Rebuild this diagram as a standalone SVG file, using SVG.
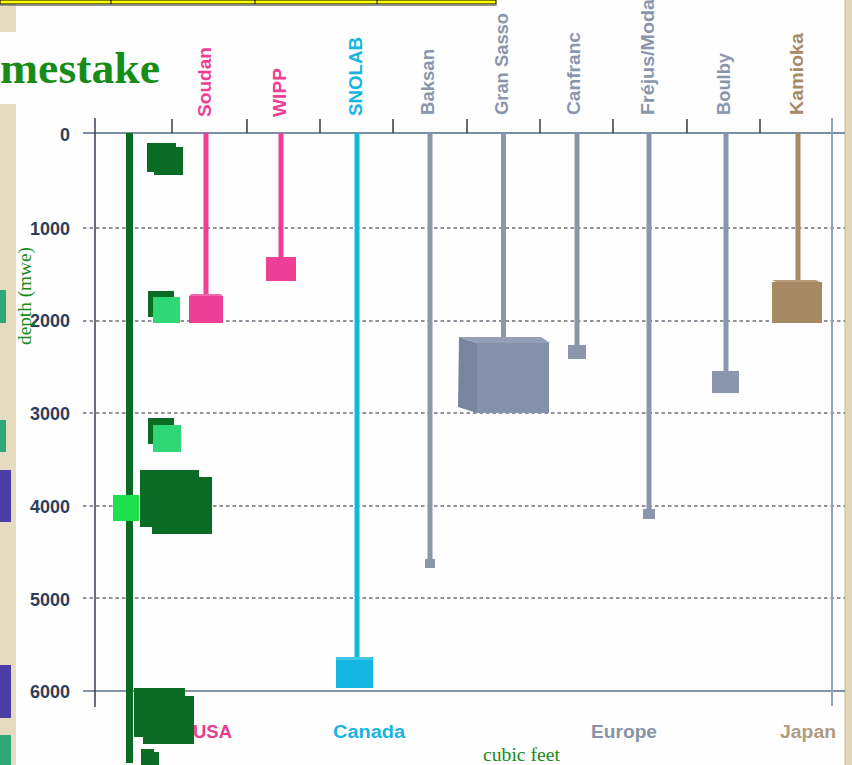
<svg xmlns="http://www.w3.org/2000/svg" width="852" height="765" viewBox="0 0 852 765">
<style>
.depth{font-family:"Liberation Sans",Arial,sans-serif;font-weight:bold;font-size:18px;fill:#2e3d5c;text-anchor:end}
.site{font-family:"Liberation Sans",Arial,sans-serif;font-weight:bold;font-size:18px}
.region{font-family:"Liberation Sans",Arial,sans-serif;font-weight:bold;font-size:18px}
.serif{font-family:"Liberation Serif","Times New Roman",serif;fill:#188c18}
.grid{stroke:#6e6e78;stroke-width:1.5;stroke-dasharray:3.5 3}
.tick{stroke:#3a3a44;stroke-width:1.5}
.pink{fill:#ec3f95}
.cyan{fill:#15b5e2}
.grey{fill:#8a96ab}
.tan{fill:#a88966}
.dg{fill:#0a6b24}
.lg{fill:#2fd874}
</style>
<rect x="0" y="0" width="852" height="765" fill="#fefefe"/>
<g id="background">
<rect x="0" y="4" width="16" height="28" fill="#e6dbbf"/>
<rect x="0" y="104" width="16" height="661" fill="#e6dbbf"/>
<rect x="845" y="0" width="7" height="765" fill="#e2d6b8"/>
<line x1="845" y1="0" x2="845" y2="765" stroke="#c9b98f" stroke-width="1"/>
<rect x="0" y="290" width="6" height="33" fill="#2ea878"/>
<rect x="0" y="420" width="6" height="32" fill="#2ea878"/>
<rect x="0" y="470" width="11" height="52" fill="#4a3ea6"/>
<rect x="0" y="665" width="11" height="53" fill="#4a3ea6"/>
<rect x="0" y="735" width="11" height="30" fill="#2ea878"/>
<rect x="0" y="0" width="496" height="4" fill="#ffff00" stroke="#000" stroke-width="1"/>
<line x1="111" y1="0" x2="111" y2="4" stroke="#000" stroke-width="1"/>
<line x1="255" y1="0" x2="255" y2="4" stroke="#000" stroke-width="1"/>
<line x1="377" y1="0" x2="377" y2="4" stroke="#000" stroke-width="1"/>
<line x1="0" y1="5.5" x2="497" y2="5.5" stroke="#999" stroke-width="1"/>
</g>
<g id="axes">
<line class="grid" x1="83" y1="228" x2="845" y2="228"/>
<line class="grid" x1="83" y1="321" x2="845" y2="321"/>
<line class="grid" x1="83" y1="413" x2="845" y2="413"/>
<line class="grid" x1="83" y1="506" x2="845" y2="506"/>
<line class="grid" x1="83" y1="598" x2="845" y2="598"/>
<line x1="83" y1="691" x2="845" y2="691" stroke="#8494a6" stroke-width="2"/>
<line x1="83" y1="133" x2="845" y2="133" stroke="#7a90a2" stroke-width="2"/>
<line x1="95" y1="118" x2="95" y2="707" stroke="#3a3a50" stroke-width="1.5"/>
<line x1="832" y1="118" x2="832" y2="706" stroke="#8ea6b8" stroke-width="2"/>
<line class="tick" x1="172" y1="119" x2="172" y2="133"/>
<line class="tick" x1="247" y1="119" x2="247" y2="133"/>
<line class="tick" x1="320" y1="119" x2="320" y2="133"/>
<line class="tick" x1="393" y1="119" x2="393" y2="133"/>
<line class="tick" x1="467" y1="119" x2="467" y2="133"/>
<line class="tick" x1="540" y1="119" x2="540" y2="133"/>
<line class="tick" x1="613" y1="119" x2="613" y2="133"/>
<line class="tick" x1="687" y1="119" x2="687" y2="133"/>
<line class="tick" x1="760" y1="119" x2="760" y2="133"/>
<text class="depth" x="70" y="141">0</text>
<text class="depth" x="70" y="235">1000</text>
<text class="depth" x="70" y="327">2000</text>
<text class="depth" x="70" y="420">3000</text>
<text class="depth" x="70" y="513">4000</text>
<text class="depth" x="70" y="606">5000</text>
<text class="depth" x="70" y="698">6000</text>
<text class="serif" transform="translate(31,345) rotate(-90)" font-size="18" textLength="98" lengthAdjust="spacingAndGlyphs">depth (mwe)</text>
<text class="serif" x="483" y="761" font-size="18" textLength="77" lengthAdjust="spacingAndGlyphs">cubic feet</text>
</g>
<g id="title">
<text class="serif" x="0" y="83" font-size="44" font-weight="bold" fill="#129a14" textLength="160" lengthAdjust="spacingAndGlyphs">mestake</text>
</g>
<g id="connectors"/>
<g id="homestake">
<rect class="dg" x="126" y="133" width="7" height="630"/>
<rect class="dg" x="147" y="143" width="29" height="29"/>
<rect class="dg" x="154" y="147" width="29" height="28"/>
<rect class="dg" x="148" y="291" width="26" height="26"/>
<rect class="lg" x="153" y="297" width="27" height="26"/>
<rect class="dg" x="148" y="418" width="26" height="26"/>
<rect class="lg" x="153" y="425" width="28" height="27"/>
<rect class="dg" x="140" y="470" width="59" height="57"/>
<rect class="dg" x="152" y="477" width="60" height="57"/>
<rect x="113" y="495" width="26" height="26" fill="#1ee04c"/>
<rect class="dg" x="134" y="688" width="51" height="49"/>
<rect class="dg" x="143" y="696" width="51" height="48"/>
<rect class="dg" x="141" y="749" width="13" height="16"/>
<rect class="dg" x="145" y="752" width="14" height="13"/>
</g>
<g id="soudan">
<rect class="pink" x="203.5" y="133" width="5" height="164"/>
<polygon points="191,294 221,294 223,297 189,297" fill="#f26aac"/>
<rect class="pink" x="189" y="296" width="34" height="27"/>
<text class="site pink" transform="translate(211,117) rotate(-90)" textLength="70" lengthAdjust="spacingAndGlyphs">Soudan</text>
</g>
<g id="wipp">
<rect class="pink" x="278.5" y="133" width="5" height="125"/>
<rect class="pink" x="266" y="257" width="30" height="24"/>
<text class="site pink" transform="translate(286,117) rotate(-90)" textLength="49" lengthAdjust="spacingAndGlyphs">WIPP</text>
</g>
<g id="snolab">
<rect class="cyan" x="354.5" y="133" width="5" height="526"/>
<rect class="cyan" x="336" y="657" width="37" height="31"/>
<polygon points="336,657 371,657 373,660 336,660" fill="#44c6ea"/>
<text class="site cyan" transform="translate(362,116) rotate(-90)" textLength="79" lengthAdjust="spacingAndGlyphs">SNOLAB</text>
</g>
<g id="baksan">
<rect class="grey" x="427.5" y="133" width="5" height="428"/>
<rect class="grey" x="425" y="559" width="10" height="9"/>
<text class="site grey" transform="translate(434,115) rotate(-90)" textLength="66" lengthAdjust="spacingAndGlyphs">Baksan</text>
</g>
<g id="gransasso">
<rect class="grey" x="501" y="133" width="5" height="207"/>
<polygon points="459,337 477,343 477,413 458,407" fill="#7884a0"/>
<polygon points="459,337 541,337 550,343 477,343" fill="#939fb6"/>
<rect x="477" y="343" width="72" height="70" fill="#8591ab"/>
<text class="site grey" transform="translate(508,115) rotate(-90)" textLength="102" lengthAdjust="spacingAndGlyphs">Gran Sasso</text>
</g>
<g id="canfranc">
<rect class="grey" x="574.5" y="133" width="5" height="214"/>
<rect class="grey" x="568" y="345" width="18" height="14"/>
<text class="site grey" transform="translate(580,115) rotate(-90)" textLength="83" lengthAdjust="spacingAndGlyphs">Canfranc</text>
</g>
<g id="frejus">
<rect class="grey" x="646.5" y="133" width="5" height="378"/>
<rect class="grey" x="643" y="509" width="12" height="10"/>
<text class="site grey" transform="translate(654,115) rotate(-90)" textLength="116" lengthAdjust="spacingAndGlyphs">Fréjus/Moda</text>
</g>
<g id="boulby">
<rect class="grey" x="723.5" y="133" width="5" height="240"/>
<rect class="grey" x="712" y="371" width="27" height="22"/>
<text class="site grey" transform="translate(730,115) rotate(-90)" textLength="62" lengthAdjust="spacingAndGlyphs">Boulby</text>
</g>
<g id="kamioka">
<rect class="tan" x="795.5" y="133" width="5" height="148"/>
<polygon points="772,280 816,280 822,283 778,283" fill="#b89a78"/>
<rect class="tan" x="772" y="282" width="50" height="41"/>
<text class="site tan" transform="translate(803,115) rotate(-90)" textLength="82" lengthAdjust="spacingAndGlyphs">Kamioka</text>
</g>
<g id="regions">
<text class="region" x="193" y="738" fill="#e83c8c" textLength="39" lengthAdjust="spacingAndGlyphs">USA</text>
<text class="region" x="333" y="738" fill="#1ab4e0" textLength="72" lengthAdjust="spacingAndGlyphs">Canada</text>
<text class="region" x="591" y="738" fill="#8a93a6" textLength="66" lengthAdjust="spacingAndGlyphs">Europe</text>
<text class="region" x="780" y="738" fill="#b09a82" textLength="56" lengthAdjust="spacingAndGlyphs">Japan</text>
</g>
</svg>
